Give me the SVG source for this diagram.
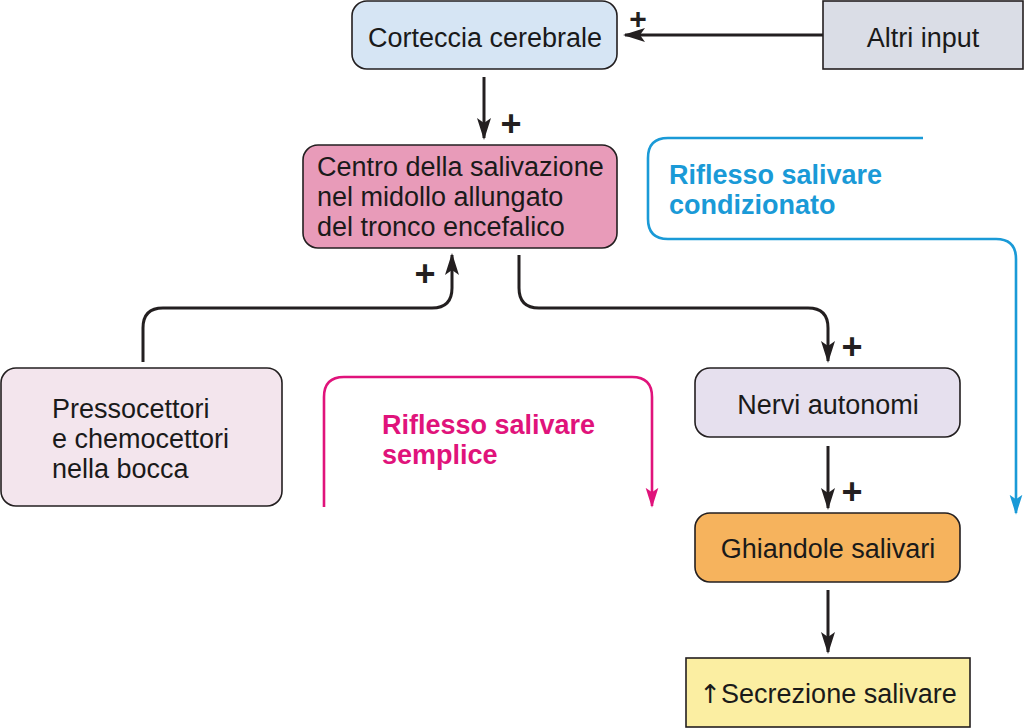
<svg xmlns="http://www.w3.org/2000/svg" width="1024" height="728" viewBox="0 0 1024 728">
<defs>
<style>
.t{font-family:"Liberation Sans",Arial,sans-serif;font-size:27px;fill:#1a1a1a}
.c{text-anchor:middle}
.b{stroke:#231f20;stroke-width:1.6}
.k{fill:none;stroke:#231f20;stroke-width:3}
.plus{font-family:"Liberation Sans",Arial,sans-serif;font-size:36px;font-weight:bold;fill:#231f20;text-anchor:middle}
.lp{font-family:"Liberation Sans",Arial,sans-serif;font-size:27px;font-weight:bold;fill:#e0137b}
.lb{font-family:"Liberation Sans",Arial,sans-serif;font-size:27px;font-weight:bold;fill:#1a9ad7}
</style>
<marker id="ak" viewBox="0 0 22 14" refX="20" refY="7" markerWidth="22" markerHeight="14" markerUnits="userSpaceOnUse" orient="auto"><path d="M0,0 L22,7 L0,14 L5,7 Z" fill="#231f20"/></marker>
<marker id="ap" viewBox="0 0 22 14" refX="20" refY="7" markerWidth="20" markerHeight="14" markerUnits="userSpaceOnUse" orient="auto"><path d="M0,0 L22,7 L0,14 L5,7 Z" fill="#e0137b"/></marker>
<marker id="abl" viewBox="0 0 22 14" refX="20" refY="7" markerWidth="20" markerHeight="14" markerUnits="userSpaceOnUse" orient="auto"><path d="M0,0 L22,7 L0,14 L5,7 Z" fill="#1a9ad7"/></marker>
</defs>
<rect width="1024" height="728" fill="#fff"/>

<g id="corteccia"><rect class="b" x="352" y="1" width="265" height="68" rx="15" fill="#d6e5f4"/><text class="t c" x="485" y="47">Corteccia cerebrale</text></g>
<g id="altri"><rect class="b" x="823" y="1" width="200" height="68" fill="#dadde6"/><text class="t c" x="923" y="47">Altri input</text></g>
<g id="centro"><rect class="b" x="303" y="145" width="314" height="103" rx="15" fill="#e89bb9"/>
<text class="t" x="317" y="176">Centro della salivazione</text><text class="t" x="317" y="206">nel midollo allungato</text><text class="t" x="317" y="236">del tronco encefalico</text></g>
<g id="pressocettori"><rect class="b" x="1" y="368" width="281" height="138" rx="15" fill="#f3e5ed"/>
<text class="t" x="52" y="418">Pressocettori</text><text class="t" x="52" y="448">e chemocettori</text><text class="t" x="52" y="478">nella bocca</text></g>
<g id="nervi"><rect class="b" x="695" y="368" width="265" height="69" rx="15" fill="#e6e0ee"/><text class="t c" x="828" y="414">Nervi autonomi</text></g>
<g id="ghiandole"><rect class="b" x="695" y="513" width="265" height="69" rx="15" fill="#f6b35d"/><text class="t c" x="828" y="558">Ghiandole salivari</text></g>
<g id="secrezione"><rect class="b" x="686" y="658" width="284" height="69" fill="#fbeea2"/><text class="t c" x="828" y="703"><tspan font-family="'DejaVu Sans',sans-serif" font-size="26">↑</tspan>Secrezione salivare</text></g>

<g id="connectors">
<path class="k" d="M823,35 H625" marker-end="url(#ak)"/>
<path class="k" d="M484,77 V138" marker-end="url(#ak)"/>
<path class="k" d="M143,362 V328 Q143,308 163,308 H432 Q452,308 452,288 V255" marker-end="url(#ak)"/>
<path class="k" d="M519,255 V288 Q519,308 539,308 H808 Q828,308 828,328 V361" marker-end="url(#ak)"/>
<path class="k" d="M828,446 V508" marker-end="url(#ak)"/>
<path class="k" d="M828,590 V652" marker-end="url(#ak)"/>
<path d="M324,507 V397 Q324,377 344,377 H632 Q652,377 652,397 V506" fill="none" stroke="#e0137b" stroke-width="2.6" marker-end="url(#ap)"/>
<path d="M923,138 H668 Q648,138 648,158 V219 Q648,239 668,239 H996 Q1016,239 1016,259 V513" fill="none" stroke="#1a9ad7" stroke-width="2.6" marker-end="url(#abl)"/>
</g>

<g id="labels">
<text class="plus" x="638" y="29" style="font-size:30px">+</text>
<text class="plus" x="511" y="136">+</text>
<text class="plus" x="425" y="286">+</text>
<text class="plus" x="852" y="359">+</text>
<text class="plus" x="852" y="504">+</text>
<text class="lp" x="382" y="434">Riflesso salivare</text>
<text class="lp" x="382" y="464">semplice</text>
<text class="lb" x="669" y="184">Riflesso salivare</text>
<text class="lb" x="669" y="214">condizionato</text>
</g>
</svg>
